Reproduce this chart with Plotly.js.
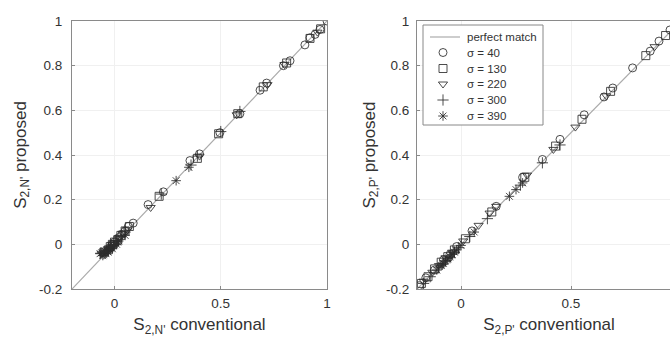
<!DOCTYPE html>
<html>
<head>
<meta charset="utf-8">
<script src="https://cdn.plot.ly/plotly-3.0.1.min.js"></script>
<style>
html,body{margin:0;padding:0;overflow:hidden;background:#fff;width:670px;height:337px;}
#chart{width:700px;height:337px;}
</style>
</head>
<body>
<div id="chart"></div>
<script>
// ---------- DATA ----------
const seriesNames = ["σ = 40", "σ = 130", "σ = 220", "σ = 300", "σ = 390"];
const lineName = "perfect match";
const lineX = [-0.2, 1];
const lineY = [-0.2, 1];

// Left panel: S2,N'  (conventional -> proposed)
const n40_conv = [1.00, 0.967, 0.944, 0.92, 0.896, 0.826, 0.795, 0.716, 0.685, 0.59, 0.496, 0.40, 0.355, 0.23, 0.158, 0.088, 0.065, 0.05, 0.035, 0.02, 0.00, -0.01, -0.02];
const n40_prop = [1.00, 0.962, 0.940, 0.925, 0.893, 0.822, 0.800, 0.722, 0.690, 0.585, 0.500, 0.405, 0.375, 0.235, 0.178, 0.095, 0.08, 0.06, 0.045, 0.03, 0.01, 0.00, -0.015];
const n130_conv = [0.97, 0.92, 0.81, 0.70, 0.58, 0.49, 0.39, 0.21, 0.07, 0.05, 0.03, 0.015, 0.00, -0.01, -0.02, -0.03, -0.05];
const n130_prop = [0.965, 0.922, 0.812, 0.705, 0.585, 0.495, 0.385, 0.215, 0.08, 0.06, 0.04, 0.02, 0.01, 0.00, -0.01, -0.025, -0.035];
const n220_conv = [0.955, 0.80, 0.72, 0.575, 0.40, 0.17, 0.06, 0.04, 0.02, 0.00, -0.01, -0.02, -0.03, -0.04, -0.06];
const n220_prop = [0.950, 0.805, 0.715, 0.580, 0.395, 0.165, 0.065, 0.05, 0.03, 0.005, 0.00, -0.02, -0.02, -0.035, -0.04];
const n300_conv = [0.59, 0.50, 0.39, 0.36, 0.22, 0.05, 0.03, 0.01, -0.005, -0.02, -0.03, -0.035, -0.045, -0.065];
const n300_prop = [0.595, 0.505, 0.395, 0.355, 0.225, 0.055, 0.035, 0.015, -0.005, -0.015, -0.03, -0.025, -0.04, -0.04];
const n390_conv = [0.35, 0.29, 0.05, 0.02, 0.015, 0.01, 0.00, -0.01, -0.015, -0.025, -0.03, -0.04, -0.045, -0.05, -0.055, -0.06, -0.068];
const n390_prop = [0.345, 0.285, 0.04, 0.015, 0.01, 0.00, -0.002, -0.02, -0.012, -0.02, -0.035, -0.04, -0.03, -0.045, -0.05, -0.038, -0.042];

// Right panel: S2,P'
const p40_conv = [0.95, 0.90, 0.86, 0.78, 0.69, 0.65, 0.56, 0.45, 0.37, 0.28, 0.16, 0.05, -0.02, -0.05, -0.08, -0.12, -0.16, -0.19];
const p40_prop = [0.96, 0.91, 0.865, 0.79, 0.70, 0.66, 0.58, 0.47, 0.38, 0.30, 0.17, 0.06, -0.01, -0.045, -0.07, -0.115, -0.15, -0.185];
const p130_conv = [0.93, 0.84, 0.68, 0.55, 0.43, 0.29, 0.14, 0.02, -0.03, -0.06, -0.09, -0.12, -0.15, -0.18];
const p130_prop = [0.935, 0.845, 0.685, 0.56, 0.44, 0.30, 0.145, 0.025, -0.025, -0.055, -0.08, -0.11, -0.145, -0.175];
const p220_conv = [0.88, 0.66, 0.52, 0.42, 0.30, 0.16, 0.13, 0.08, 0.01, -0.04, -0.07, -0.10, -0.13, -0.17];
const p220_prop = [0.885, 0.665, 0.525, 0.425, 0.31, 0.17, 0.14, 0.085, 0.015, -0.035, -0.06, -0.095, -0.125, -0.165];
const p300_conv = [0.45, 0.37, 0.27, 0.12, 0.04, -0.01, -0.03, -0.05, -0.07, -0.085, -0.10, -0.14, -0.17];
const p300_prop = [0.445, 0.365, 0.265, 0.115, 0.035, -0.015, -0.035, -0.06, -0.075, -0.09, -0.105, -0.145, -0.175];
const p390_conv = [0.28, 0.25, 0.22, 0.06, 0.00, -0.02, -0.03, -0.04, -0.05, -0.06, -0.07, -0.08, -0.09, -0.11];
const p390_prop = [0.275, 0.245, 0.215, 0.055, -0.005, -0.025, -0.035, -0.045, -0.055, -0.065, -0.075, -0.085, -0.095, -0.115];

const tickXvalsL = [0, 0.5, 1];
const tickXtextL = ["0", "0.5", "1"];
const tickXvalsR = [0, 0.5];
const tickXtextR = ["0", "0.5"];
const tickYvals = [-0.2, 0, 0.2, 0.4, 0.6, 0.8, 1];
const tickYtext = ["-0.2", "0", "0.2", "0.4", "0.6", "0.8", "1"];

// ---------- STYLE ----------
const symbols = ["circle-open", "square-open", "triangle-down-open", "cross-thin-open", "asterisk-open"];
const markColor = "rgba(45,45,45,0.85)";
const lineColor = "#ababab";
const W = 700;
const FF = "Liberation Sans, Arial, sans-serif";
// legend box geometry in px (custom legend drawn on a hidden subplot)
const legBox = {left: 423, right: 543, top: 25, bottom: 125};
const legRows = [37, 52.5, 68.5, 84, 100, 116];
const legSymX = 20, legLine = [7, 37], legTextX = 42;
const plotTop = 21, plotBottom = 289, plotH = plotBottom - plotTop;

const leftData = [[n40_conv, n40_prop], [n130_conv, n130_prop], [n220_conv, n220_prop], [n300_conv, n300_prop], [n390_conv, n390_prop]];
const rightData = [[p40_conv, p40_prop], [p130_conv, p130_prop], [p220_conv, p220_prop], [p300_conv, p300_prop], [p390_conv, p390_prop]];

const mk = i => ({symbol: symbols[i], size: 8, color: markColor, line: {width: 1, color: markColor}});

const traces = [];
[["x", "y"], ["x2", "y2"]].forEach(([xa, ya]) => {
  traces.push({x: lineX, y: lineY, mode: "lines", name: lineName, xaxis: xa, yaxis: ya,
    line: {color: lineColor, width: 1.2}, showlegend: false, hoverinfo: "skip"});
});
seriesNames.forEach((nm, i) => {
  traces.push({x: leftData[i][0], y: leftData[i][1], mode: "markers", name: nm, xaxis: "x", yaxis: "y",
    showlegend: false, marker: mk(i)});
});
seriesNames.forEach((nm, i) => {
  traces.push({x: rightData[i][0], y: rightData[i][1], mode: "markers", name: nm, xaxis: "x2", yaxis: "y2",
    showlegend: false, marker: mk(i)});
});
// custom legend glyphs
traces.push({x: legLine, y: [legRows[0], legRows[0]], mode: "lines", xaxis: "x3", yaxis: "y3",
  line: {color: lineColor, width: 1.2}, showlegend: false, hoverinfo: "skip"});
seriesNames.forEach((nm, i) => {
  traces.push({x: [legSymX], y: [legRows[i + 1]], mode: "markers", xaxis: "x3", yaxis: "y3",
    showlegend: false, hoverinfo: "skip", marker: mk(i)});
});
const legendTexts = [lineName].concat(seriesNames);
const annotations = legendTexts.map((t, i) => ({
  xref: "x3", yref: "y3", x: legTextX, y: legRows[i], text: t, showarrow: false,
  xanchor: "left", yanchor: "middle", font: {family: FF, size: 11.5, color: "#333"}
}));

const axBase = {
  showline: true, mirror: true, linecolor: "#8a8a8a", linewidth: 1,
  showgrid: true, gridcolor: "#f0f0f0", zeroline: false,
  ticks: "inside", ticklen: 3, tickcolor: "#8a8a8a",
  tickfont: {family: FF, size: 13.5, color: "#333"}
};
function xax(domain, title, tv, tt, anchor) {
  return Object.assign({}, axBase, {domain: domain, range: [-0.2, 1], tickmode: "array", anchor: anchor,
    tickvals: tv, ticktext: tt, ticklabelstandoff: 2,
    title: {text: title, font: {family: FF, size: 17, color: "#333"}, standoff: 8}});
}
function yax(title, anchor, tls, st) {
  return Object.assign({}, axBase, {domain: [0, 1], range: [-0.2, 1], tickmode: "array", anchor: anchor,
    tickvals: tickYvals, ticktext: tickYtext, ticklabelstandoff: tls,
    title: {text: title, font: {family: FF, size: 17, color: "#333"}, standoff: st}});
}

const layout = {
  width: W, height: 337,
  margin: {l: 0, r: 0, t: plotTop, b: 337 - plotBottom},
  paper_bgcolor: "#fff", plot_bgcolor: "#fff",
  font: {family: FF, size: 12, color: "#333"},
  showlegend: false,
  xaxis: xax([72 / W, 327 / W], "S<sub>2,N'</sub> conventional", tickXvalsL, tickXtextL, "y"),
  yaxis: yax("S<sub>2,N'</sub> proposed", "x", 6, 8),
  xaxis2: xax([417 / W, 681 / W], "S<sub>2,P'</sub> conventional", tickXvalsR, tickXtextR, "y2"),
  yaxis2: yax("S<sub>2,P'</sub> proposed", "x2", 4, 6),
  xaxis3: {domain: [legBox.left / W, legBox.right / W], range: [0, legBox.right - legBox.left],
    visible: false, anchor: "y3", fixedrange: true},
  yaxis3: {domain: [(plotBottom - legBox.bottom) / plotH, (plotBottom - legBox.top) / plotH],
    range: [legBox.bottom, legBox.top], visible: false, anchor: "x3", fixedrange: true},
  shapes: [{type: "rect", xref: "paper", yref: "paper",
    x0: legBox.left / W, x1: legBox.right / W,
    y0: (plotBottom - legBox.bottom) / plotH, y1: (plotBottom - legBox.top) / plotH,
    line: {color: "#888", width: 1}, fillcolor: "rgba(0,0,0,0)"}],
  annotations: annotations
};

Plotly.newPlot("chart", traces, layout, {displayModeBar: false, staticPlot: true});
</script>
</body>
</html>
